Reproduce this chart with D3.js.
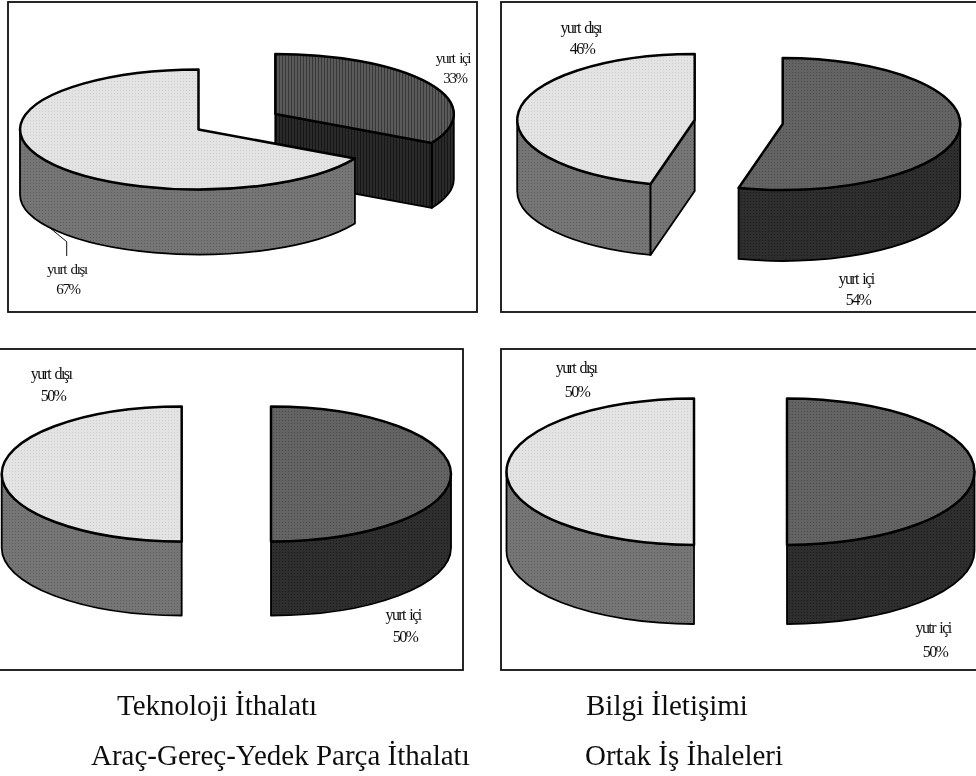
<!DOCTYPE html>
<html><head><meta charset="utf-8">
<script src="https://cdn.jsdelivr.net/npm/d3@7/dist/d3.min.js"></script>
<style>html,body{margin:0;padding:0;background:#fff}svg{display:block}</style></head>
<body><svg id="c" width="976" height="776"></svg>
<script>
// ---- data ----
const panelNames = ["Teknoloji İthalatı","Bilgi İletişimi","Araç-Gereç-Yedek Parça İthalatı","Ortak İş İhaleleri"];
const insideLabels = ["yurt içi","yurt içi","yurt içi","yutr içi"];
const outsideLabels = ["yurt dışı","yurt dışı","yurt dışı","yurt dışı"];
const insideShare = [33,54,50,50];
const outsideShare = [67,46,50,50];

// ---- layout ----
const frames = [[8,2,469,310],[501,2,490,310],[-3,349,466,321],[501,349,490,321]];
const geom = [
 {rx:178.5,ry:60,d:65,inC:[275.3,114],outC:[198.5,129.5]},
 {rx:177.5,ry:66,d:71,inC:[782.7,124],outC:[694.7,120]},
 {rx:180,ry:67.5,d:74,inC:[271,474],outC:[181.7,474]},
 {rx:187.5,ry:73.3,d:79,inC:[787,471.7],outC:[694,471.7]}
];
const labelPos = [
 {i:[453,63,455,83],o:[67,274,68,294],fs:15,ls:-1.3},
 {i:[856,284,858,305],o:[580.7,33,582,54],fs:16,ls:-1.6},
 {i:[403,620,405,642],o:[51,379,53,401],fs:16,ls:-1.6},
 {i:[933,633,935,657],o:[576,373,577,397],fs:16,ls:-1.6}
];
const captionPos = [[117,715],[586,715],[91,765],[585,765]];

const svg = d3.select("#c");
const defs = svg.append("defs");
defs.append("filter").attr("id","soft").attr("x",0).attr("y",0).attr("width","100%").attr("height","100%")
  .append("feGaussianBlur").attr("stdDeviation",0.35);
function dots(id,bg,fg,s){
  const p=defs.append("pattern").attr("id",id).attr("width",s).attr("height",s).attr("patternUnits","userSpaceOnUse");
  p.append("rect").attr("width",s).attr("height",s).attr("fill",bg);
  p.append("rect").attr("width",1).attr("height",1).attr("fill",fg);
}
function stripes(id,bg,fg){
  const p=defs.append("pattern").attr("id",id).attr("width",3).attr("height",3).attr("patternUnits","userSpaceOnUse");
  p.append("rect").attr("width",3).attr("height",3).attr("fill",bg);
  p.append("rect").attr("width",1).attr("height",3).attr("fill",fg);
}
dots("pLight","#e3e3e3","#cfcfcf",3);
dots("pMid","#747474","#5f5f5f",3);
dots("pTop","#646464","#4e4e4e",3);
dots("pDark","#2e2e2e","#1f1f1f",3);
stripes("sTop","#5a5a5a","#383838");
stripes("sDark","#2c2c2c","#151515");

const pie = d3.pie().sort(null);
const root = svg.append("g").attr("filter","url(#soft)");
root.append("rect").attr("width",976).attr("height",776).attr("fill","#fff");
const stroke = "#000", sw = 2.5;

function slice(g,cx,cy,rx,ry,depth,a0,a1,fTop,fWall){
  // a0,a1: clockwise angles from 12 o'clock; scales map unit circle to pixels
  const X=d3.scaleLinear().domain([-1,1]).range([cx-rx,cx+rx]);
  const Y=d3.scaleLinear().domain([-1,1]).range([cy-ry,cy+ry]);
  const px=a=>X(Math.sin(a)), py=a=>Y(-Math.cos(a));
  const arc=(b0,b1,dy,move)=>{
    const sweep=b1>b0?1:0, large=Math.abs(b1-b0)>Math.PI?1:0;
    return (move?`M${px(b0)},${py(b0)+dy}`:`L${px(b0)},${py(b0)+dy}`)+
      `A${rx},${ry} 0 ${large} ${sweep} ${px(b1)},${py(b1)+dy}`;
  };
  const draw=(d,f,w)=>g.append("path").attr("d",d).attr("fill",f).attr("stroke",stroke).attr("stroke-width",w||sw).attr("stroke-linejoin","round");
  // outer wall: visible for angles in the front half
  const w0=Math.max(a0,Math.PI/2), w1=Math.min(a1,Math.PI*1.5);
  if(w1>w0) draw(arc(w0,w1,0,true)+`L${px(w1)},${py(w1)+depth}`+arc(w1,w0,depth,false)+"Z",fWall,1.8);
  // cut faces seen from the front
  const face=(a)=>draw(`M${cx},${cy}L${px(a)},${py(a)}L${px(a)},${py(a)+depth}L${cx},${cy+depth}Z`,fWall,1.8);
  if(Math.sin(a1)>0.01 && Math.cos(a1)<0) face(a1);
  if(Math.sin(a0)<-0.01 && Math.cos(a0)<0) face(a0);
  // top
  draw(`M${cx},${cy}`+arc(a0,a1,0,false)+"Z",fTop);
}

panelNames.forEach((name,i)=>{
  const f=frames[i], g=root.append("g"), G=geom[i];
  g.append("rect").attr("x",f[0]).attr("y",f[1]).attr("width",f[2]).attr("height",f[3])
    .attr("fill","#fff").attr("stroke","#111").attr("stroke-width",1.8);
  const arcs=pie([insideShare[i],outsideShare[i]]);
  const st=i===0;
  slice(g,G.inC[0],G.inC[1],G.rx,G.ry,G.d,arcs[0].startAngle,arcs[0].endAngle,
    st?"url(#sTop)":"url(#pTop)",st?"url(#sDark)":"url(#pDark)");
  slice(g,G.outC[0],G.outC[1],G.rx,G.ry,G.d,arcs[1].startAngle,arcs[1].endAngle,"url(#pLight)","url(#pMid)");
  const L=labelPos[i];
  const t=(s,x,y)=>g.append("text").attr("x",x).attr("y",y).attr("text-anchor","middle")
    .attr("font-family","'Liberation Serif'").attr("font-size",L.fs).attr("letter-spacing",L.ls)
    .attr("word-spacing",2).attr("fill","#111").text(s);
  t(insideLabels[i],L.i[0],L.i[1]); t(insideShare[i]+"%",L.i[2],L.i[3]);
  t(outsideLabels[i],L.o[0],L.o[1]); t(outsideShare[i]+"%",L.o[2],L.o[3]);
  if(i===0){
    g.append("path").attr("d",d3.line()([[50,228],[66.7,241.7],[66.7,256]])).attr("fill","none").attr("stroke","#111").attr("stroke-width",1);
  }
  root.append("text").attr("x",captionPos[i][0]).attr("y",captionPos[i][1])
    .attr("font-family","'Liberation Serif'").attr("font-size",29).attr("fill","#111").text(name);
});
</script></body></html>
